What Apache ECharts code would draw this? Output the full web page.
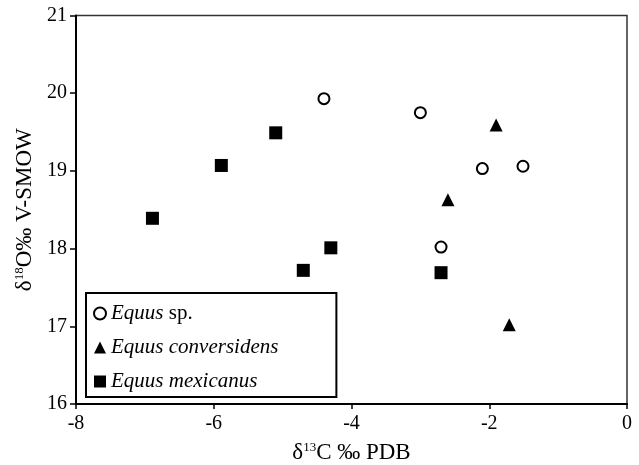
<!DOCTYPE html>
<html>
<head>
<meta charset="utf-8">
<script src="https://cdn.jsdelivr.net/npm/echarts@6/dist/echarts.min.js"></script>
<style>html,body{margin:0;padding:0;background:#fff;}#c{width:639px;height:465px;}</style>
</head>
<body>
<div id="c"></div>
<script>
// δ13C (x) and δ18O (y) values per taxon
const equusSpX = [-4.40, -3.00, -2.10, -1.51, -2.70];
const equusSpY = [19.93, 19.75, 19.03, 19.06, 18.02];
const conversidensX = [-1.90, -2.60, -1.71];
const conversidensY = [19.59, 18.63, 17.02];
const mexicanusX = [-5.10, -5.89, -6.89, -4.30, -4.70, -2.70];
const mexicanusY = [19.49, 19.07, 18.39, 18.01, 17.72, 17.69];
const seriesNames = ['Equus sp.', 'Equus conversidens', 'Equus mexicanus'];
const xTicks = [-8, -6, -4, -2, 0];
const yTicks = [16, 17, 18, 19, 20, 21];

function pairs(xs, ys) { return xs.map((x, i) => [x, ys[i]]); }

const FONT = '"Liberation Serif", "DejaVu Serif", serif';
const titleRich = {
  d: {fontFamily: FONT, fontSize: 23, color: '#000'},
  s: {fontFamily: FONT, fontSize: 13, color: '#000', verticalAlign: 'top'},
  n: {fontFamily: FONT, fontSize: 23, color: '#000'}
};
const chart = echarts.init(document.getElementById('c'));
chart.setOption({
  backgroundColor: '#fff',
  animation: false,
  grid: {left: 76, right: 12, top: 15.5, bottom: 61, show: true, borderColor: '#333', borderWidth: 1.5,
         containLabel: false, outerBoundsMode: 'none'},
  xAxis: {
    type: 'value', min: xTicks[0], max: xTicks[xTicks.length - 1], interval: 2,
    splitLine: {show: false},
    axisLine: {onZero: false, lineStyle: {color: '#000', width: 2}},
    axisTick: {show: true, length: 5, lineStyle: {color: '#000', width: 1.5}},
    axisLabel: {color: '#000', fontFamily: FONT, fontSize: 20, margin: 10},
    name: '{d|δ}{s|13}{n|C ‰ PDB}', nameLocation: 'middle', nameGap: 37,
    nameTextStyle: {color: '#000', fontFamily: FONT, fontSize: 23, rich: titleRich}
  },
  yAxis: {
    type: 'value', min: yTicks[0], max: yTicks[yTicks.length - 1], interval: 1,
    splitLine: {show: false},
    axisLine: {onZero: false, lineStyle: {color: '#000', width: 2}},
    axisTick: {show: true, length: 6, lineStyle: {color: '#000', width: 1.5}},
    axisLabel: {color: '#000', fontFamily: FONT, fontSize: 20, margin: 9},
    name: '{d|δ}{s|18}{n|O‰ V-SMOW}', nameLocation: 'middle', nameGap: 36, nameRotate: 90,
    nameTextStyle: {color: '#000', fontFamily: FONT, fontSize: 23, rich: titleRich}
  },
  legend: {
    show: true, orient: 'vertical', left: 86, top: 293,
    padding: [10, 58, 5, 7], itemGap: 13, itemWidth: 12, itemHeight: 12,
    borderColor: '#000', borderWidth: 2, backgroundColor: '#fff',
    data: seriesNames,
    formatter: function (name) {
      const parts = name.split(' ');
      if (parts[1] === 'sp.') return '{i|' + parts[0] + '} {n|sp.}';
      return '{i|' + name + '}';
    },
    textStyle: {color: '#000', fontFamily: FONT, fontSize: 21,
      rich: {i: {fontFamily: FONT, fontStyle: 'italic', fontSize: 21, color: '#000'},
             n: {fontFamily: FONT, fontSize: 21, color: '#000'}}}
  },
  series: [
    {name: seriesNames[0], type: 'scatter', symbol: 'circle', symbolSize: 11,
     itemStyle: {color: '#fff', borderColor: '#000', borderWidth: 2, opacity: 1},
     data: pairs(equusSpX, equusSpY)},
    {name: seriesNames[1], type: 'scatter', symbol: 'triangle', symbolSize: 13,
     itemStyle: {color: '#000', opacity: 1},
     data: pairs(conversidensX, conversidensY)},
    {name: seriesNames[2], type: 'scatter', symbol: 'rect', symbolSize: 13,
     itemStyle: {color: '#000', opacity: 1},
     data: pairs(mexicanusX, mexicanusY)}
  ]
});
</script>
</body>
</html>
